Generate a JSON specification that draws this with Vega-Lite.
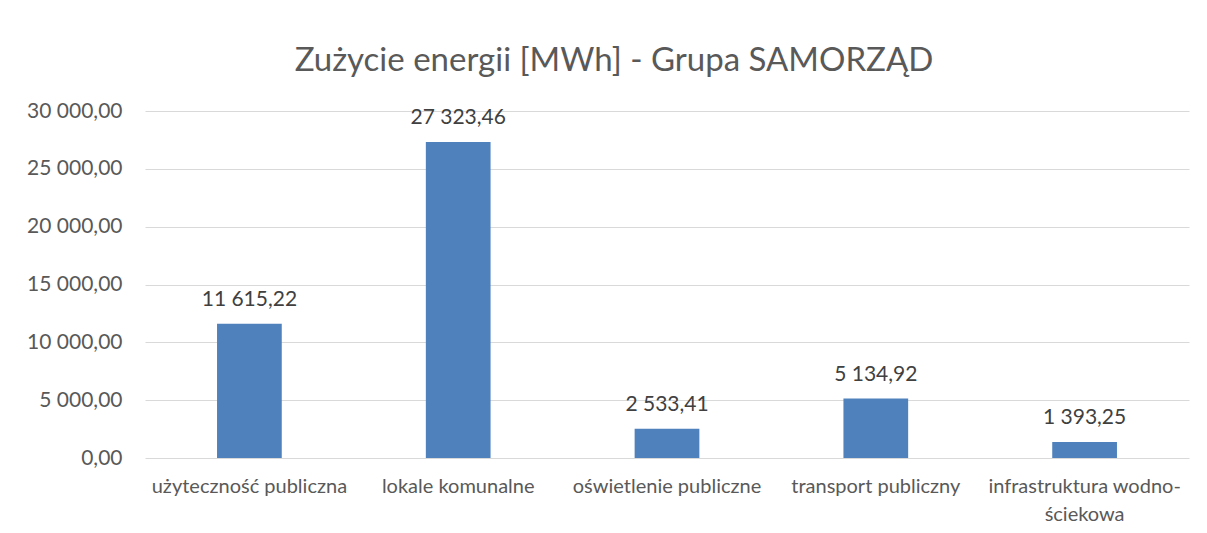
{
  "$schema": "https://vega.github.io/schema/vega-lite/v6.json",
  "width": 1044,
  "height": 347,
  "autosize": "none",
  "padding": {"left": 145, "top": 111, "right": 18, "bottom": 75},
  "background": "white",
  "config": {
    "locale": {"number": {"decimal": ",", "thousands": " ", "grouping": [3], "currency": ["", ""]}},
    "view": {"stroke": null},
    "font": "Lato"
  },
  "title": {
    "text": "Zużycie energii [MWh] - Grupa SAMORZĄD",
    "fontSize": 33,
    "fontWeight": "normal",
    "color": "#595959",
    "font": "Lato",
    "anchor": "middle",
    "dx": -53,
    "offset": 22
  },
  "data": {
    "values": [
      {"kategoria": "użyteczność publiczna", "wartosc": 11615.22},
      {"kategoria": "lokale komunalne", "wartosc": 27323.46},
      {"kategoria": "oświetlenie publiczne", "wartosc": 2533.41},
      {"kategoria": "transport publiczny", "wartosc": 5134.92},
      {"kategoria": "infrastruktura wodno-ściekowa", "wartosc": 1393.25}
    ]
  },
  "encoding": {
    "x": {
      "field": "kategoria",
      "type": "nominal",
      "sort": null,
      "scale": {"paddingInner": 0.69, "paddingOuter": 0.345},
      "axis": {
        "title": null,
        "labelAngle": 0,
        "ticks": false,
        "domain": false,
        "labelFontSize": 20,
        "labelColor": "#595959",
        "labelPadding": 18,
        "labelLimit": 300,
        "labelLineHeight": 28,
        "labelExpr": "datum.value == 'infrastruktura wodno-ściekowa' ? ['infrastruktura wodno-', 'ściekowa'] : datum.value"
      }
    },
    "y": {
      "field": "wartosc",
      "type": "quantitative",
      "scale": {"domain": [0, 30000]},
      "axis": {
        "title": null,
        "values": [0, 5000, 10000, 15000, 20000, 25000, 30000],
        "labelOverlap": false,
        "format": ",.2f",
        "ticks": false,
        "domain": false,
        "gridColor": "#d9d9d9",
        "gridWidth": 1,
        "labelFontSize": 21,
        "labelColor": "#595959",
        "labelPadding": 23
      }
    }
  },
  "layer": [
    {"mark": {"type": "bar", "color": "#4f81bd"}},
    {
      "mark": {"type": "text", "dy": -24, "fontSize": 21, "color": "#404040"},
      "encoding": {"text": {"field": "wartosc", "type": "quantitative", "format": ",.2f"}}
    }
  ]
}
